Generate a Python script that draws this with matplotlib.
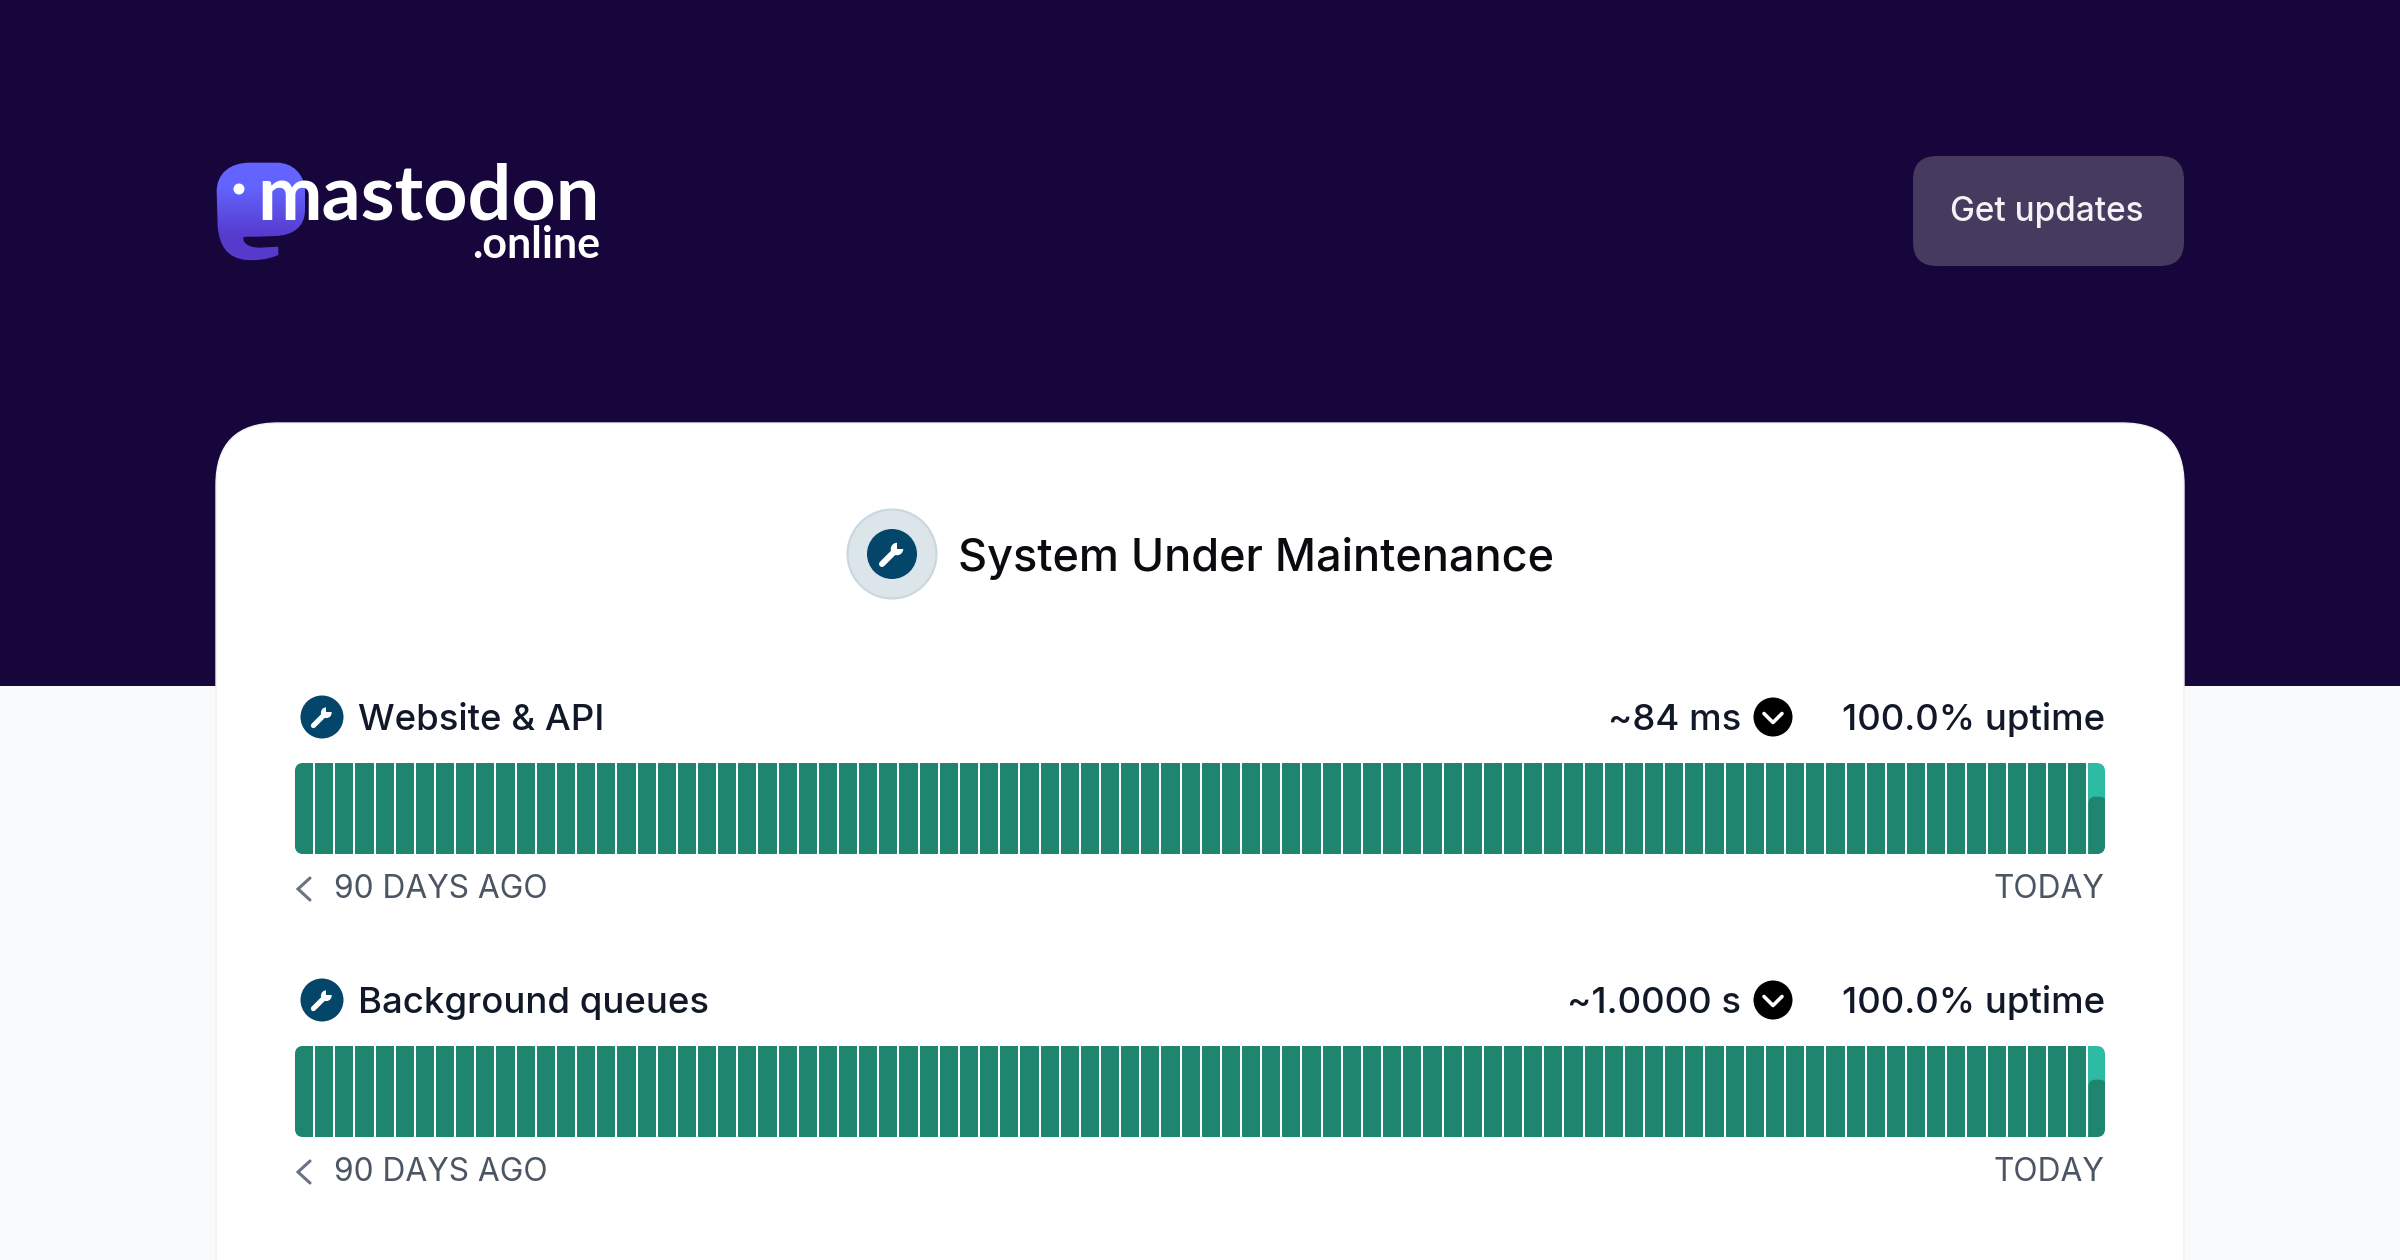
#!/usr/bin/env python
# coding: utf-8

import numpy as np
import matplotlib
matplotlib.use('Agg')
import matplotlib.pyplot as plt
from matplotlib.colors import LinearSegmentedColormap
from matplotlib.patches import Circle, FancyBboxPatch, PathPatch, Rectangle
from matplotlib.path import Path

plt.rcParams['font.family'] = ['Inter', 'DejaVu Sans']

# chart data
row_names = ['Website & API', 'Background queues']
row_latency = ['~84 ms', '~1.0000 s']
row_uptime = ['100.0% uptime', '100.0% uptime']
website_days = [1.0, 1.0, 1.0, 1.0, 1.0, 1.0, 1.0, 1.0, 1.0, 1.0,
                1.0, 1.0, 1.0, 1.0, 1.0, 1.0, 1.0, 1.0, 1.0, 1.0,
                1.0, 1.0, 1.0, 1.0, 1.0, 1.0, 1.0, 1.0, 1.0, 1.0,
                1.0, 1.0, 1.0, 1.0, 1.0, 1.0, 1.0, 1.0, 1.0, 1.0,
                1.0, 1.0, 1.0, 1.0, 1.0, 1.0, 1.0, 1.0, 1.0, 1.0,
                1.0, 1.0, 1.0, 1.0, 1.0, 1.0, 1.0, 1.0, 1.0, 1.0,
                1.0, 1.0, 1.0, 1.0, 1.0, 1.0, 1.0, 1.0, 1.0, 1.0,
                1.0, 1.0, 1.0, 1.0, 1.0, 1.0, 1.0, 1.0, 1.0, 1.0,
                1.0, 1.0, 1.0, 1.0, 1.0, 1.0, 1.0, 1.0, 1.0, 0.63]
queues_days = [1.0, 1.0, 1.0, 1.0, 1.0, 1.0, 1.0, 1.0, 1.0, 1.0,
               1.0, 1.0, 1.0, 1.0, 1.0, 1.0, 1.0, 1.0, 1.0, 1.0,
               1.0, 1.0, 1.0, 1.0, 1.0, 1.0, 1.0, 1.0, 1.0, 1.0,
               1.0, 1.0, 1.0, 1.0, 1.0, 1.0, 1.0, 1.0, 1.0, 1.0,
               1.0, 1.0, 1.0, 1.0, 1.0, 1.0, 1.0, 1.0, 1.0, 1.0,
               1.0, 1.0, 1.0, 1.0, 1.0, 1.0, 1.0, 1.0, 1.0, 1.0,
               1.0, 1.0, 1.0, 1.0, 1.0, 1.0, 1.0, 1.0, 1.0, 1.0,
               1.0, 1.0, 1.0, 1.0, 1.0, 1.0, 1.0, 1.0, 1.0, 1.0,
               1.0, 1.0, 1.0, 1.0, 1.0, 1.0, 1.0, 1.0, 1.0, 0.63]

# colours
DARK_BG = '#17063b'
LIGHT_BG = '#f9fafc'
BUTTON = '#463a5e'
ICON = '#03466a'
ICON_HALO = '#dbe5ea'
BAR_DARK = '#20856f'
BAR_LIGHT = '#2dbba4'
TEXT_DARK = '#111827'
TEXT_GREY = '#4b5563'

W, H = 2400, 1260
fig = plt.figure(figsize=(W / 100, H / 100), dpi=100, facecolor=LIGHT_BG)

# page axes in pixels, y going down
ax = fig.add_axes([0, 0, 1, 1])
ax.set_xlim(0, W)
ax.set_ylim(H, 0)
ax.axis('off')


def wrench(cx, cy, r, bg):
    # handle, head and the notch in the head
    s = r / 22
    lw = 3.8 * s
    ax.plot([cx - 0.40 * r, cx + 0.12 * r], [cy + 0.40 * r, cy - 0.12 * r], color='white', lw=lw,
            solid_capstyle='round', zorder=6)
    ax.add_patch(Circle((cx + 0.2 * r, cy - 0.2 * r), 0.25 * r, fc='white', ec='none', zorder=6))
    ax.add_patch(Rectangle((cx + 0.2 * r, cy - 0.52 * r), 0.26 * r, 0.3 * r, angle=0,
                           fc=bg, ec='none', zorder=7))


def logo():
    def z(x, y):
        return (180 + x / 3, 120 + y / 3)
    pts = [(110, 215), (110, 160), (150, 128), (210, 128),
           (290, 128),
           (340, 128), (375, 165), (375, 215),
           (375, 270),
           (375, 320), (340, 345), (290, 348),
           (235, 350),
           (210, 350), (190, 350), (190, 352),
           (188, 375), (215, 383), (240, 383),
           (295, 380),
           (295, 405),
           (260, 420), (225, 422), (200, 420),
           (140, 415), (118, 375), (113, 320),
           (110, 215)]
    codes = [Path.MOVETO, Path.CURVE4, Path.CURVE4, Path.CURVE4,
             Path.LINETO,
             Path.CURVE4, Path.CURVE4, Path.CURVE4,
             Path.LINETO,
             Path.CURVE4, Path.CURVE4, Path.CURVE4,
             Path.LINETO,
             Path.CURVE4, Path.CURVE4, Path.CURVE4,
             Path.CURVE4, Path.CURVE4, Path.CURVE4,
             Path.LINETO,
             Path.LINETO,
             Path.CURVE4, Path.CURVE4, Path.CURVE4,
             Path.CURVE4, Path.CURVE4, Path.CURVE4,
             Path.LINETO]
    bubble = PathPatch(Path([z(*p) for p in pts], codes), fc='none', ec='none', zorder=3)
    ax.add_patch(bubble)
    cmap = LinearSegmentedColormap.from_list('logo', ['#6364ff', '#563acc'])
    grad = np.array([[0.0], [1.0]])
    img = ax.imshow(grad, cmap=cmap, extent=(215, 307, 262, 161), aspect='auto', zorder=3,
                    interpolation='bilinear')
    img.set_clip_path(bubble)
    ax.set_xlim(0, W)
    ax.set_ylim(H, 0)
    ax.add_patch(Circle((239, 189), 5.5, fc='white', ec='none', zorder=4))
    ax.text(257, 219, 'mastodon', color='white', fontsize=55.5, family='Lato', weight='bold',
            ha='left', va='baseline', zorder=5)
    ax.text(600, 258, '.online', color='white', fontsize=31, family='Lato', weight='bold',
            ha='right', va='baseline', zorder=5)


def chevron_circle(cx, cy):
    ax.add_patch(Circle((cx, cy), 19.5, fc='black', ec='none', zorder=5))
    ax.plot([cx - 9, cx, cx + 9], [cy - 3.5, cy + 5.5, cy - 3.5], color='white', lw=2.6,
            solid_capstyle='round', solid_joinstyle='round', zorder=6)


def uptime_strip(values, top, bottom, left=295, right=2105, pitch=20.15):
    # one strip of day bars on its own axes, the last day is cut off at the right edge
    n = len(values)
    strip = fig.add_axes([left / W, 1 - bottom / H, pitch * n / W, (bottom - top) / H])
    strip.set_xlim(0, n)
    strip.set_ylim(0, 1)
    strip.axis('off')
    aspect = pitch / (bottom - top)
    clip = FancyBboxPatch((0, 0), (right - left) / pitch, 1, boxstyle='round,pad=0,rounding_size=0.42',
                          mutation_aspect=aspect, fc='none', ec='none')
    strip.add_patch(clip)
    days = np.arange(n)
    width = 0.9
    artists = list(strip.bar(days, np.ones(n), width=width, align='edge', color=BAR_LIGHT))
    for d, v in zip(days, values):
        if v >= 1:
            artists.extend(strip.bar([d], [v], width=width, align='edge', color=BAR_DARK))
        else:
            # partial day, rounded top
            box = FancyBboxPatch((d, -0.2), width, v + 0.2, boxstyle='round,pad=0,rounding_size=0.35',
                                 mutation_aspect=aspect, fc=BAR_DARK, ec='none')
            strip.add_patch(box)
            artists.append(box)
    for a in artists:
        a.set_clip_path(clip)


# header and card
ax.add_patch(Rectangle((0, 0), W, 686, fc=DARK_BG, ec='none', zorder=1))
ax.add_patch(FancyBboxPatch((216, 423), 1968, 1000, boxstyle='round,pad=0,rounding_size=62',
                            fc='white', ec='#f0f1f4', lw=1, zorder=2))
ax.add_patch(FancyBboxPatch((1913, 156), 271, 110, boxstyle='round,pad=0,rounding_size=24',
                            fc=BUTTON, ec='none', zorder=2))
ax.text(2047, 221, 'Get updates', color='#f3f2f5', fontsize=24, weight='medium',
        ha='center', va='baseline', zorder=5)
logo()

# status line
ax.add_patch(Circle((892, 554), 44.5, fc=ICON_HALO, ec='#c9d8df', lw=1.5, zorder=3))
ax.add_patch(Circle((892, 554), 25, fc=ICON, ec='none', zorder=4))
wrench(892, 554, 25, ICON)
ax.text(958, 571, 'System Under Maintenance', color='#0b0b0f', fontsize=32.4, weight='medium',
        ha='left', va='baseline', zorder=5)

# rows
row_base = [730, 1013]
row_days = [website_days, queues_days]
for i in range(len(row_names)):
    base = row_base[i]
    mid = base - 13
    ax.add_patch(Circle((322, mid), 21.5, fc=ICON, ec='none', zorder=4))
    wrench(322, mid, 21.5, ICON)
    ax.text(358, base, row_names[i], color=TEXT_DARK, fontsize=26.3, weight='medium',
            ha='left', va='baseline', zorder=5)
    ax.text(1741, base, row_latency[i], color=TEXT_DARK, fontsize=26.3, weight='medium',
            ha='right', va='baseline', zorder=5)
    chevron_circle(1773, mid)
    ax.text(2105, base, row_uptime[i], color=TEXT_DARK, fontsize=26.3, weight='medium',
            ha='right', va='baseline', zorder=5)
    uptime_strip(row_days[i], base + 33, base + 124)
    lab = base + 168
    ax.plot([310, 298, 310], [lab - 20, lab - 9, lab + 2], color='#6b7280', lw=2.2,
            solid_capstyle='round', solid_joinstyle='miter', zorder=5)
    ax.text(334, lab, '90 DAYS AGO', color=TEXT_GREY, fontsize=22.8, ha='left', va='baseline', zorder=5)
    ax.text(2104, lab, 'TODAY', color=TEXT_GREY, fontsize=22.8, ha='right', va='baseline', zorder=5)

fig.savefig('out.png', dpi=100, facecolor=fig.get_facecolor())
